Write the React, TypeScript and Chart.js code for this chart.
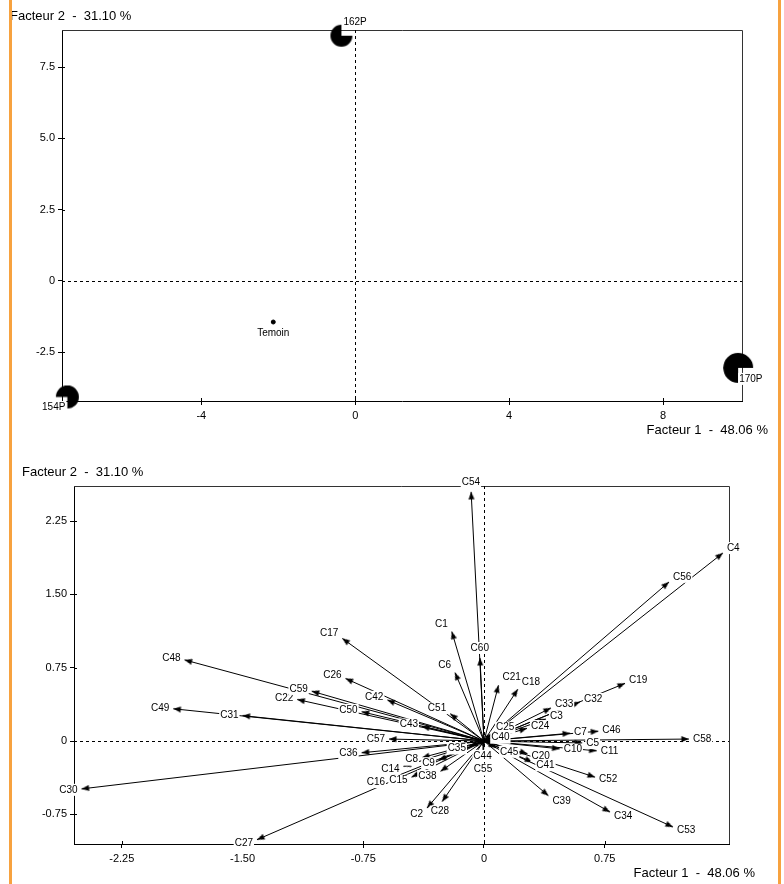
import React, { useEffect, useRef } from 'react';
import { Chart, registerables } from 'chart.js';
Chart.register(...registerables);

const FONT = '"Liberation Sans", Arial, sans-serif';

// ---- Individuals (top map) ----
const individuals = ['162P', '154P', '170P', 'Temoin'];
const indivF1 = [-0.36, -7.48, 9.95, -2.13];
const indivF2 = [8.6, -4.07, -3.05, -1.44];

// ---- Variables (bottom map) ----
const variables = [
  'C1', 'C2', 'C3', 'C4', 'C5', 'C6', 'C7', 'C8', 'C9', 'C10', 'C11', 'C14', 'C15', 'C16', 'C17', 'C18', 'C19', 'C20',
  'C21', 'C22', 'C24', 'C25', 'C26', 'C27', 'C28', 'C30', 'C31', 'C32', 'C33', 'C34', 'C35', 'C36', 'C38', 'C39',
  'C40', 'C41', 'C42', 'C43', 'C44', 'C45', 'C46', 'C48', 'C49', 'C50', 'C51', 'C52', 'C53', 'C54', 'C55', 'C56',
  'C57', 'C58', 'C59', 'C60',
];
const varF1 = [
  -0.2, -0.354, 0.385, 1.484, 0.61, -0.18, 0.535, -0.385, -0.28, 0.47, 0.70, -0.5, -0.45, -0.59, -0.88, 0.21, 0.876, 0.27,
  0.09, -1.16, 0.267, 0.05, -0.86, -1.41, -0.26, -2.5, -1.5, 0.596, 0.416, 0.783, -0.087, -0.76, -0.27, 0.4,
  0.02, 0.3, -0.6, -0.385, -0.005, 0.075, 0.71, -1.86, -1.93, -0.76, -0.21, 0.69, 1.174, -0.08, -0.005, 1.149,
  -0.59, 1.273, -1.07, -0.025,
];
const varF2 = [
  1.12, -0.686, 0.225, 1.924, -0.02, 0.7, 0.08, -0.17, -0.195, -0.08, -0.10, -0.26, -0.37, -0.39, 1.05, 0.53, 0.59, -0.13,
  0.57, 0.425, 0.13, 0.08, 0.64, -1.01, -0.62, -0.49, 0.26, 0.4, 0.338, -0.727, -0.05, -0.12, -0.31, -0.56,
  0.01, -0.215, 0.42, 0.15, -0.05, -0.07, 0.10, 0.83, 0.33, 0.3, 0.28, -0.37, -0.88, 2.55, -0.19, 1.627,
  0.02, 0.02, 0.51, 0.85,
];

// ---- Ticks & titles ----
const topXTicks = [-4, 0, 4, 8];
const topYTicks = [-2.5, 0, 2.5, 5, 7.5];
const botXTicks = [-2.25, -1.5, -0.75, 0, 0.75];
const botYTicks = [-0.75, 0, 0.75, 1.5, 2.25];
const titleF1 = 'Facteur 1  -  48.06 %';
const titleF2 = 'Facteur 2  -  31.10 %';

function makePie(r: number) {
  const c = document.createElement('canvas');
  const s = Math.ceil(r * 2 + 2);
  c.width = s;
  c.height = s;
  const g = c.getContext('2d')!;
  const m = s / 2;
  g.fillStyle = '#000';
  g.beginPath();
  g.moveTo(m, m);
  g.arc(m, m, r, 0, 1.5 * Math.PI);
  g.closePath();
  g.fill();
  return c;
}

function makeArrowHead() {
  const c = document.createElement('canvas');
  c.width = 16;
  c.height = 16;
  const g = c.getContext('2d')!;
  g.fillStyle = '#000';
  g.beginPath();
  g.moveTo(8, 8);
  g.lineTo(11, 15.5);
  g.lineTo(5, 15.5);
  g.closePath();
  g.fill();
  return c;
}

function axis(min: number, max: number, ticks: number[], fmt: (v: number) => string, pos: 'left' | 'bottom', size: number, pad: number) {
  return {
    type: 'linear',
    position: pos,
    min,
    max,
    afterBuildTicks: (s: any) => {
      s.ticks = ticks.map((v) => ({ value: v }));
    },
    afterFit: (s: any) => {
      if (pos === 'left') s.width = size;
      else s.height = size;
    },
    ticks: {
      callback: (v: any) => fmt(Number(v)),
      color: '#000',
      font: { family: FONT, size: 11 },
      padding: pad,
      maxRotation: 0,
      autoSkip: false,
    },
    grid: { display: true, drawOnChartArea: false, drawTicks: true, tickLength: 4, color: '#000', tickColor: '#000', lineWidth: 1 },
    border: { display: true, color: '#000', width: 1 },
  };
}

function framePlugin(dashX: number[], dashY: number[]) {
  return {
    id: 'frame',
    beforeDatasetsDraw(chart: any) {
      const { ctx, chartArea } = chart;
      const { left, right, top, bottom } = chartArea;
      const xs = chart.scales.x;
      const ys = chart.scales.y;
      ctx.save();
      ctx.strokeStyle = '#333';
      ctx.lineWidth = 1;
      ctx.beginPath();
      ctx.moveTo(left, Math.round(top) + 0.5);
      ctx.lineTo(Math.round(right) + 0.5, Math.round(top) + 0.5);
      ctx.lineTo(Math.round(right) + 0.5, bottom);
      ctx.stroke();
      // inner half of tick marks
      ctx.strokeStyle = '#000';
      ctx.beginPath();
      xs.ticks.forEach((t: any) => {
        const px = Math.round(xs.getPixelForValue(t.value)) + 0.5;
        ctx.moveTo(px, bottom);
        ctx.lineTo(px, bottom - 3);
      });
      ys.ticks.forEach((t: any) => {
        const py = Math.round(ys.getPixelForValue(t.value)) + 0.5;
        ctx.moveTo(left, py);
        ctx.lineTo(left + 3, py);
      });
      ctx.stroke();
      // dashed zero lines
      ctx.setLineDash([3, 3]);
      ctx.beginPath();
      dashX.forEach((v) => {
        const px = Math.round(xs.getPixelForValue(v)) + 0.5;
        ctx.moveTo(px, top);
        ctx.lineTo(px, bottom);
      });
      dashY.forEach((v) => {
        const py = Math.round(ys.getPixelForValue(v)) + 0.5;
        ctx.moveTo(left, py);
        ctx.lineTo(right, py);
      });
      ctx.stroke();
      ctx.restore();
    },
  };
}

function titlesPlugin(yTitlePos: [number, number], xTitlePos: [number, number]) {
  return {
    id: 'titles',
    afterDraw(chart: any) {
      const ctx = chart.ctx;
      ctx.save();
      ctx.font = `13px ${FONT}`;
      ctx.fillStyle = '#000';
      ctx.textBaseline = 'middle';
      ctx.textAlign = 'left';
      ctx.fillText(titleF2, yTitlePos[0], yTitlePos[1]);
      ctx.textAlign = 'right';
      ctx.fillText(titleF1, xTitlePos[0], xTitlePos[1]);
      ctx.restore();
    },
  };
}

function labelBox(ctx: CanvasRenderingContext2D, text: string, x: number, y: number) {
  const w = ctx.measureText(text).width;
  ctx.fillStyle = '#fff';
  ctx.fillRect(x - w / 2 - 1, y - 6, w + 2, 12);
  ctx.fillStyle = '#000';
  ctx.fillText(text, x, y);
}

function makeTop(canvas: HTMLCanvasElement) {
  const radii = [11, 11.5, 15, 2];
  const styles: any[] = [makePie(11), makePie(11.5), makePie(15), 'circle'];
  const rotations = [0, 180, 90, 0];
  const pointLabels = {
    id: 'pointLabels',
    afterDatasetsDraw(chart: any) {
      const ctx = chart.ctx;
      const meta = chart.getDatasetMeta(0);
      ctx.save();
      ctx.font = `10px ${FONT}`;
      ctx.textBaseline = 'middle';
      ctx.textAlign = 'center';
      meta.data.forEach((el: any, i: number) => {
        const name = individuals[i];
        const w = ctx.measureText(name).width;
        let cx = el.x;
        let cy = el.y + 11;
        if (radii[i] > 5) {
          const rot = rotations[i];
          if (rot === 0) { cx = el.x + 2 + w / 2; cy = el.y - 13; }
          else if (rot === 90) { cx = el.x + 1 + w / 2; cy = el.y + 11; }
          else if (rot === 180) { cx = el.x - 2 - w / 2; cy = el.y + 10; }
          else { cx = el.x - 2 - w / 2; cy = el.y - 13; }
        }
        labelBox(ctx, name, cx, cy);
      });
      ctx.restore();
    },
  };
  return new Chart(canvas, {
    type: 'scatter',
    data: {
      datasets: [
        {
          data: indivF1.map((x, i) => ({ x, y: indivF2[i] })),
          pointStyle: styles,
          pointRadius: radii,
          pointRotation: rotations,
          backgroundColor: '#000',
          borderColor: '#000',
          clip: false,
        } as any,
      ],
    },
    options: {
      responsive: false,
      devicePixelRatio: 1,
      animation: false,
      events: [],
      layout: { padding: { left: 0, top: 30, right: 42, bottom: 19 } },
      plugins: { legend: { display: false }, tooltip: { enabled: false } },
      scales: {
        x: axis(-7.62, 10.05, topXTicks, (v) => String(v), 'bottom', 20, 4),
        y: axis(-4.21, 8.8, topYTicks, (v) => (v === 0 ? '0' : v.toFixed(1)), 'left', 62, 3),
      } as any,
    },
    plugins: [framePlugin([0], [0]) as any, pointLabels as any, titlesPlugin([10, 16], [768, 430]) as any],
  });
}

function makeBottom(canvas: HTMLCanvasElement) {
  const head = makeArrowHead();
  const rotation = (c: any) => {
    const xs = c.chart.scales.x;
    const ys = c.chart.scales.y;
    const raw = c.raw || { x: 0, y: 0 };
    const dx = xs.getPixelForValue(raw.x) - xs.getPixelForValue(0);
    const dy = ys.getPixelForValue(raw.y) - ys.getPixelForValue(0);
    return (Math.atan2(dx, -dy) * 180) / Math.PI;
  };
  const arrowLabels = {
    id: 'arrowLabels',
    afterDatasetsDraw(chart: any) {
      const ctx = chart.ctx;
      ctx.save();
      ctx.font = `10px ${FONT}`;
      ctx.textAlign = 'center';
      ctx.textBaseline = 'middle';
      chart.data.datasets.forEach((ds: any, i: number) => {
        const meta = chart.getDatasetMeta(i);
        const o = meta.data[0];
        const t = meta.data[1];
        let dx = t.x - o.x;
        let dy = t.y - o.y;
        const len = Math.hypot(dx, dy) || 1;
        dx /= len;
        dy /= len;
        const w = ctx.measureText(ds.label).width;
        let cx: number;
        let cy: number;
        if (Math.abs(dx) < 0.2 || (dy > 0.8 && Math.abs(dx) < 0.6)) {
          cx = t.x + dx * 4;
          cy = t.y + Math.sign(dy) * 10;
        } else {
          cx = t.x + Math.sign(dx) * (4 + w / 2);
          cy = t.y + dy * 8;
        }
        labelBox(ctx, ds.label, cx, cy);
      });
      ctx.restore();
    },
  };
  return new Chart(canvas, {
    type: 'scatter',
    data: {
      datasets: variables.map((name, i) => ({
        label: name,
        data: [
          { x: 0, y: 0 },
          { x: varF1[i], y: varF2[i] },
        ],
        showLine: true,
        borderColor: '#000',
        borderWidth: 1,
        backgroundColor: '#000',
        pointRadius: [0, 4],
        pointStyle: head,
        pointRotation: rotation,
        clip: false,
      })) as any,
    },
    options: {
      responsive: false,
      devicePixelRatio: 1,
      animation: false,
      events: [],
      layout: { padding: { left: 0, top: 46, right: 55, bottom: 20 } },
      plugins: { legend: { display: false }, tooltip: { enabled: false } },
      scales: {
        x: axis(-2.547, 1.522, botXTicks, (v) => (v === 0 ? '0' : v.toFixed(2)), 'bottom', 20, 4),
        y: axis(-1.054, 2.61, botYTicks, (v) => (v === 0 ? '0' : v.toFixed(2)), 'left', 74, 3),
      } as any,
    },
    plugins: [framePlugin([0], [0]) as any, arrowLabels as any, titlesPlugin([22, 32], [755, 433]) as any],
  });
}

export default function App() {
  const topRef = useRef<HTMLCanvasElement>(null);
  const botRef = useRef<HTMLCanvasElement>(null);
  useEffect(() => {
    const charts = [makeTop(topRef.current!), makeBottom(botRef.current!)];
    return () => charts.forEach((c) => c.destroy());
  }, []);
  return (
    <div style={{ position: 'absolute', left: 0, top: 0, width: 784, height: 884, background: '#fff', overflow: 'hidden' }}>
      <canvas ref={topRef} width={784} height={440} style={{ position: 'absolute', left: 0, top: 0, width: 784, height: 440 }} />
      <canvas ref={botRef} width={784} height={444} style={{ position: 'absolute', left: 0, top: 440, width: 784, height: 444 }} />
      <div style={{ position: 'absolute', left: 9, top: 0, width: 3, height: 884, background: '#F7A23F' }} />
      <div style={{ position: 'absolute', left: 778, top: 0, width: 3, height: 884, background: '#F7A23F' }} />
    </div>
  );
}
